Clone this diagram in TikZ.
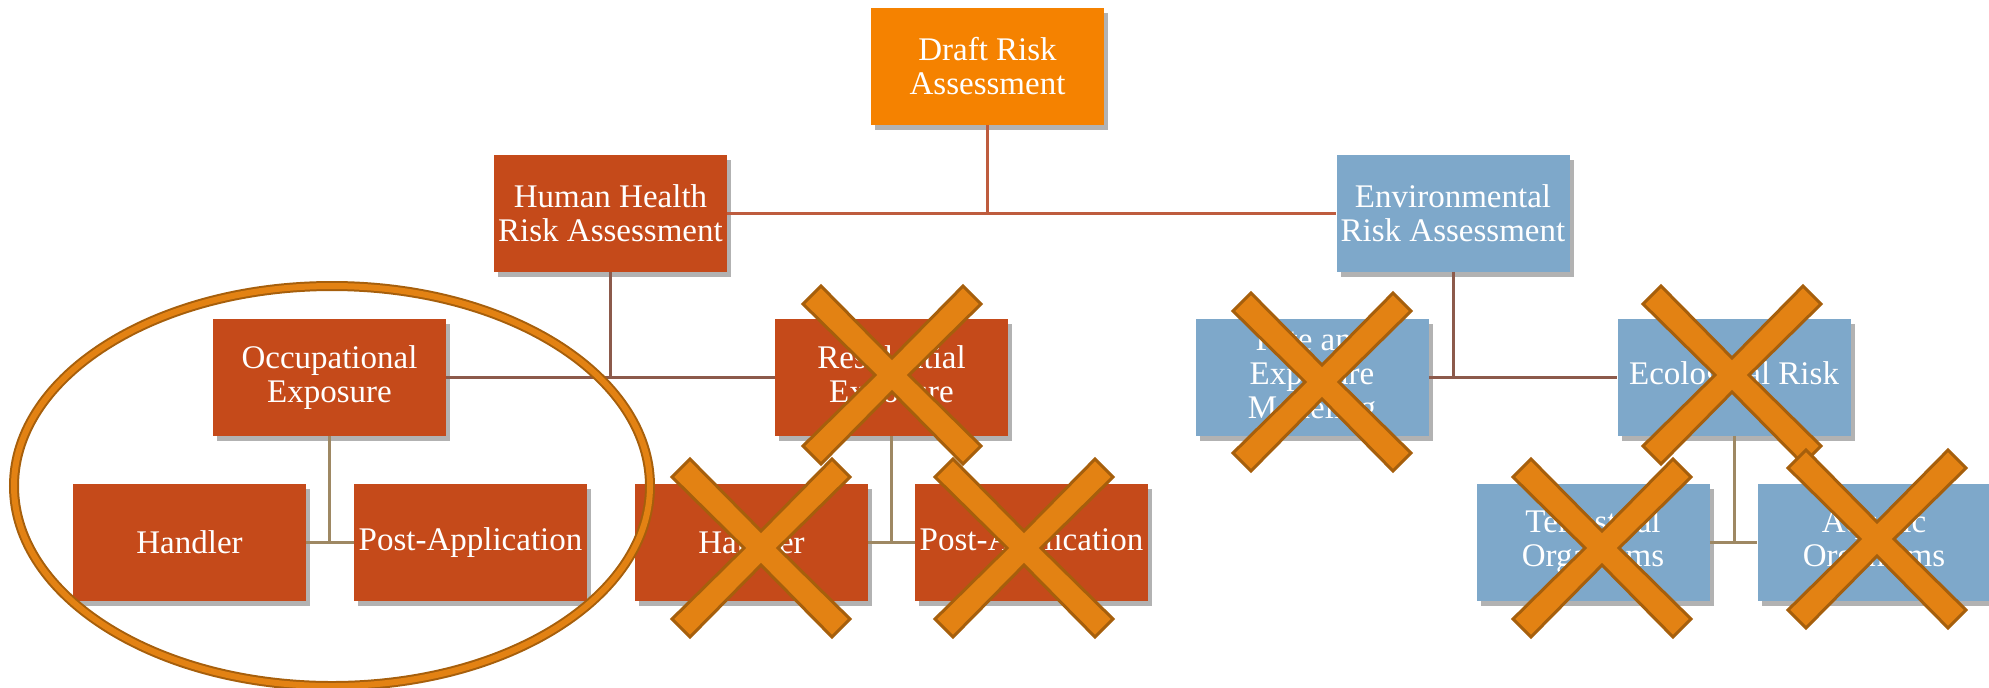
\documentclass[tikz,border=0pt]{standalone}
\usepackage{fontspec}
\setmainfont{Liberation Serif}
\usetikzlibrary{shadows}

\definecolor{draftorange}{RGB}{245,130,0}
\definecolor{hhred}{RGB}{197,74,26}
\definecolor{envblue}{RGB}{126,168,202}
\definecolor{xfill}{RGB}{227,130,19}
\definecolor{xedge}{RGB}{166,95,12}
\definecolor{topline}{RGB}{190,92,62}
\definecolor{midline}{RGB}{140,90,75}
\definecolor{lowline}{RGB}{158,136,99}

\begin{document}
\begin{tikzpicture}[x=0.5pt,y=-0.5pt,
    box/.style={minimum width=116.5pt,minimum height=58.5pt,inner sep=1pt,align=center,
      text=white,font=\fontsize{16.5}{17}\selectfont,
      drop shadow={shadow xshift=2pt,shadow yshift=-2.5pt,opacity=.3,fill=black}},
    hhbox/.style={box,fill=hhred},
    envbox/.style={box,fill=envblue},
    link/.style={line width=1.5pt},
    strike/.pic={\draw[fill=xfill,draw=xedge,line width=1.5pt]
      (0,17) -- (71,89) -- (89,71) -- (17,0) -- (89,-71) -- (71,-89) -- (0,-17)
      -- (-71,-89) -- (-89,-71) -- (-17,0) -- (-89,71) -- (-71,89) -- cycle;}]
    \useasboundingbox (0,0) rectangle (1989,687);

    %top of the tree
    \node[box,fill=draftorange] (draft) at (987.5,66.5) {Draft Risk\\Assessment};
    \node[hhbox] (hh) at (610.5,213) {Human Health\\Risk Assessment};
    \node[envbox] (env) at (1453,213) {Environmental\\Risk Assessment};

    \node[hhbox] (occ) at (329.5,377.5) {Occupational\\Exposure};
    \node[hhbox] (res) at (891.5,377.5) {Residential\\Exposure};
    \node[envbox] (fate) at (1312,377) {Fate and\\Exposure\\Modeling};
    \node[envbox] (eco) at (1734,377) {Ecological Risk};

    \node[hhbox] (handler) at (189.5,542.5) {Handler};
    \node[hhbox] (post) at (470.5,542.5) {Post-Application};
    \node[hhbox] (reshandler) at (751.5,542.5) {Handler};
    \node[hhbox] (respost) at (1031.5,542.5) {Post-Application};
    \node[envbox] (terr) at (1593,542) {Terrestrial\\Organisms};
    \node[envbox] (aqua) at (1874,542) {Aquatic\\Organisms};

    %connectors
    \draw[link,topline] (draft.south) -- (draft.south |- hh.east);
    \draw[link,topline] (hh.east) -- (env.west);
    \draw[link,midline] (hh.south) -- (hh.south |- occ.east);
    \draw[link,midline] (occ.east) -- (res.west);
    \draw[link,midline] (env.south) -- (env.south |- fate.east);
    \draw[link,midline] (fate.east) -- (eco.west);
    \draw[link,lowline] (occ.south) -- (occ.south |- handler.east);
    \draw[link,lowline] (handler.east) -- (post.west);
    \draw[link,lowline] (res.south) -- (res.south |- reshandler.east);
    \draw[link,lowline] (reshandler.east) -- (respost.west);
    \draw[link,lowline] (eco.south) -- (eco.south |- terr.east);
    \draw[link,lowline] (terr.east) -- (aqua.west);

    %crossed out parts
    \pic at (892,375) {strike};
    \pic at (761,548) {strike};
    \pic at (1024,548) {strike};
    \pic at (1322,382) {strike};
    \pic at (1732,375) {strike};
    \pic at (1602,548) {strike};
    \pic at (1877,539) {strike};

    %ring round the occupational part
    \draw[xedge,line width=5pt] (332,486) ellipse [x radius=318,y radius=200];
    \draw[xfill,line width=3pt] (332,486) ellipse [x radius=318,y radius=200];
\end{tikzpicture}
\end{document}
